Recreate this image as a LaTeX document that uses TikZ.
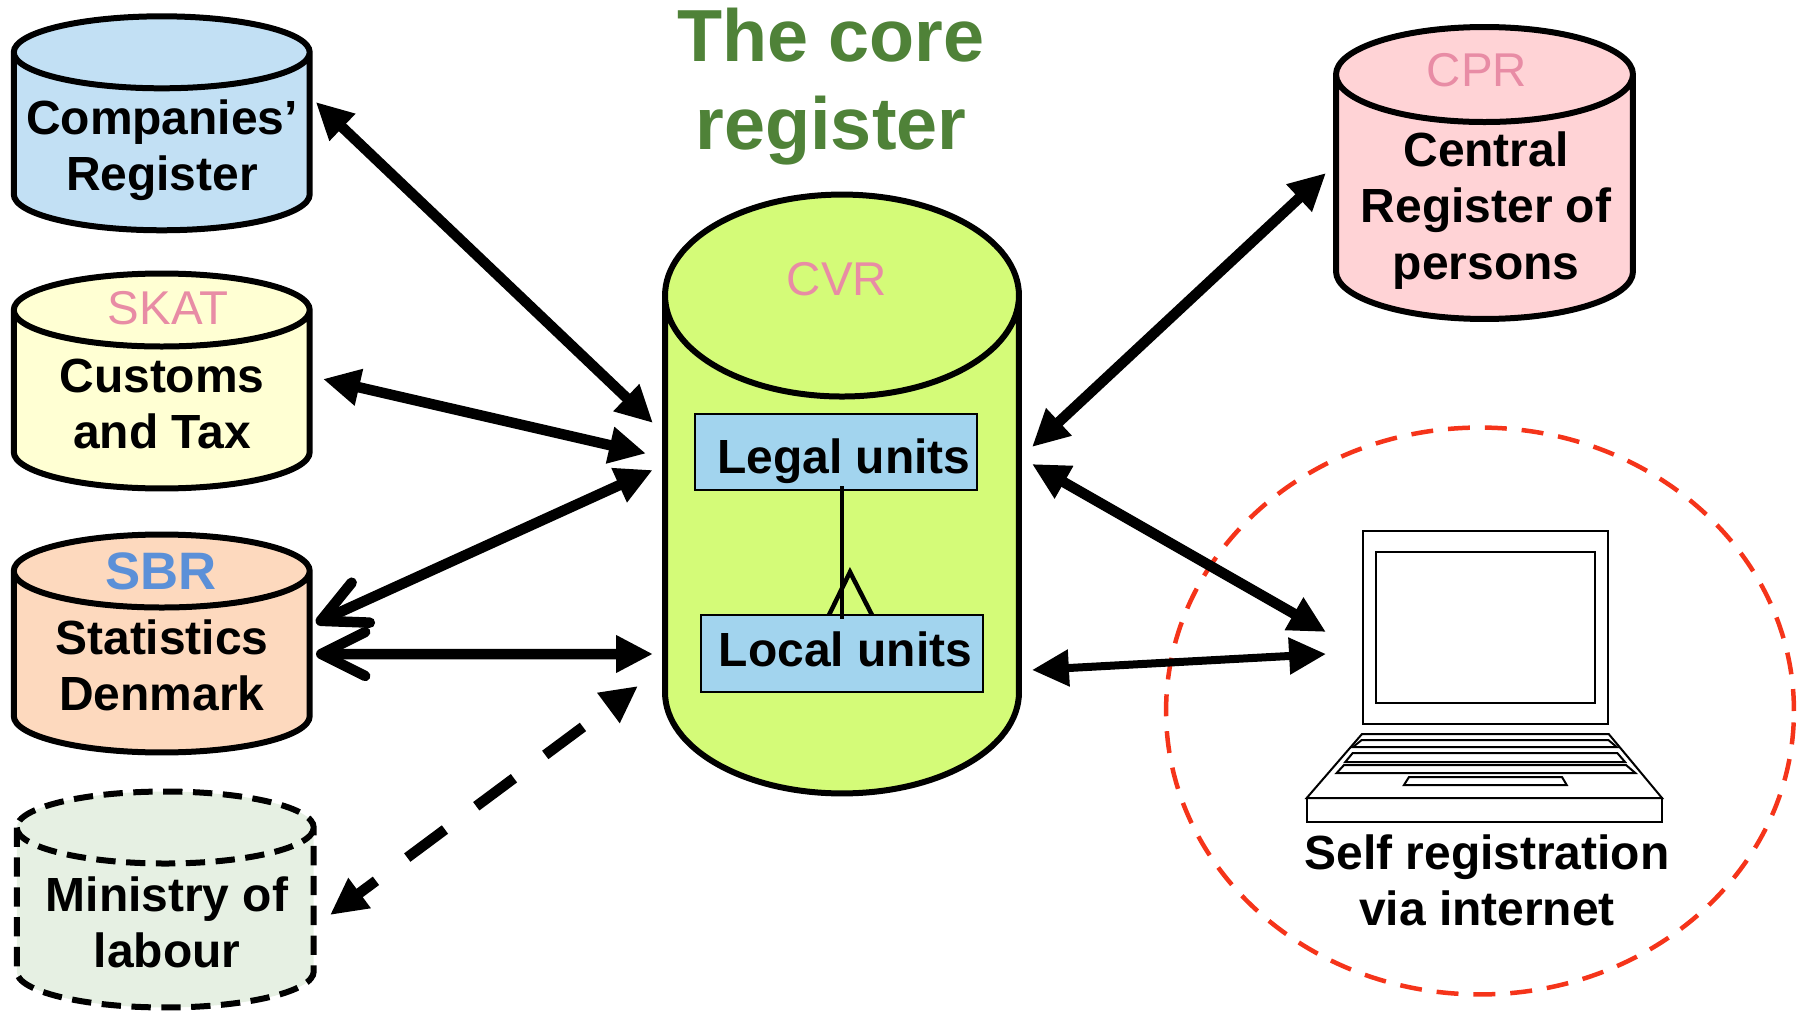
\documentclass[tikz,border=0pt]{standalone}
\usepackage{fontspec}
\setmainfont{Liberation Sans}
\usetikzlibrary{shapes.geometric}
\usepgflibrary{arrows.meta}
\definecolor{cvrgreen}{HTML}{D4FB78}
\definecolor{compblue}{HTML}{C2E0F4}
\definecolor{skatyellow}{HTML}{FFFFD3}
\definecolor{sbrorange}{HTML}{FDD9BE}
\definecolor{minigreen}{HTML}{E6F0E3}
\definecolor{cprpink}{HTML}{FFD3D6}
\definecolor{unitblue}{HTML}{A2D4EE}
\definecolor{tagpink}{HTML}{E88CA5}
\definecolor{tagblue}{HTML}{5B90D8}
\definecolor{titlegreen}{HTML}{4F8238}
\definecolor{dashred}{HTML}{F5341A}
\tikzset{
  regcore/.style={inner sep=0pt,outer sep=0pt},
  regtext/.style={align=center,font=\fontsize{27.3}{32}\selectfont\bfseries},
  regtag/.style={text=tagpink,font=\fontsize{27}{32.4}\selectfont},
  unitbox/.style={draw=black,line width=0.4mm,fill=unitblue,inner sep=0pt,outer sep=0pt,minimum width=5.66cm,minimum height=1.54cm},
  link/.style={line width=2.1mm,{Triangle[length=21pt,width=20pt]}-{Triangle[length=21pt,width=20pt]}},
  barblink/.style={line width=2.1mm,{Straight Barb[length=25pt,width=25pt,round]}-{Triangle[length=21pt,width=20pt]}},
  laptopline/.style={draw=black,line width=0.4mm}
}
%name, centre, half width, height, cap radius, look
\newcommand{\regcyl}[6]{
        \node [regcore,minimum width=2*#3cm,minimum height=#4cm] (#1) at (#2) {};
        \draw [line width=1.2mm,#6] ([yshift=-#5cm]#1.north west) -- ([yshift=#5cm]#1.south west)
            arc [start angle=180,end angle=360,x radius=#3cm,y radius=#5cm]
            -- ([yshift=-#5cm]#1.north east)
            arc [start angle=0,end angle=180,x radius=#3cm,y radius=#5cm] -- cycle
            ([yshift=-#5cm]#1.north west)
            arc [start angle=180,end angle=360,x radius=#3cm,y radius=#5cm];
}
\begin{document}
\begin{tikzpicture}[x=0.02cm,y=-0.02cm]
        \useasboundingbox (0,0) rectangle (1802,1013);
        %title
        \node [titlegreen,align=center,font=\fontsize{42}{50}\selectfont\bfseries] (title) at (831,87) {The core\\register};
        %left registers
        \regcyl{comp}{161.75,123.3}{2.96}{4.28}{0.72}{fill=compblue}
        \node [regtext] (comptext) at (162,150.5) {Companies’\\Register};
        \regcyl{skat}{161.75,381}{2.96}{4.3}{0.73}{fill=skatyellow}
        \node [regtag] (skattag) at (168,308.5) {SKAT};
        \node [regtext] (skattext) at (162,404) {Customs\\and Tax};
        \regcyl{sbr}{161.75,643.5}{2.96}{4.36}{0.73}{fill=sbrorange}
        \node [regtag,text=tagblue,font=\fontsize{30}{36}\selectfont\bfseries] (sbrtag) at (161,571.5) {SBR};
        \node [regtext] (sbrtext) at (162,665) {Statistics\\Denmark};
        \regcyl{mini}{165.25,899.5}{2.97}{4.32}{0.72}{fill=minigreen,dash pattern=on 11pt off 6pt}
        \node [regtext] (minitext) at (167,922) {Ministry of\\labour};
        %core register
        \regcyl{cvr}{842,494}{3.54}{11.98}{2.02}{fill=cvrgreen}
        \node [regtag] (cvrtag) at (837,279.5) {CVR};
        \node [unitbox] (legal) at (836,452) {};
        \node [unitbox] (local) at (842,653.5) {};
        \node [regtext] (legaltext) at (844,461) {Legal units};
        \node [regtext] (localtext) at (845.5,649) {Local units};
        \draw [line width=0.9mm] ([shift={(6,-4)}]legal.south) -- ([shift={(0,4)}]local.north);
        \draw [line width=0.9mm] ([shift={(-13,0)}]local.north) -- ++(21,-43) -- ++(22,43);
        %right side
        \regcyl{cpr}{1484.5,173}{2.97}{5.84}{0.95}{fill=cprpink}
        \node [regtag] (cprtag) at (1477,70) {CPR};
        \node [regtext] (cprtext) at (1486,210.5) {Central\\Register of\\persons};
        \node [shape=ellipse,draw=dashred,line width=0.9mm,dash pattern=on 12.5pt off 8.5pt,inner sep=0pt,outer sep=0pt,minimum width=12.56cm,minimum height=11.34cm] (selfreg) at (1480,711) {};
        %laptop
        \node [laptopline,inner sep=0pt,outer sep=0pt,minimum width=4.91cm,minimum height=3.86cm] (laptop) at (1485.3,627.5) {};
        \node [laptopline,inner sep=0pt,outer sep=0pt,minimum width=4.38cm,minimum height=3.02cm] (screen) at (1485.5,627.2) {};
        \draw [laptopline] (1362,734) -- (1608.7,734) -- (1662,798) -- (1306.7,798) -- cycle;
        \draw [laptopline] (1306.7,798) rectangle (1662,822);
        \draw [laptopline] (1361.7,740) -- (1608.3,740) -- (1616.7,747) -- (1353,747) -- cycle;
        \draw [laptopline] (1352.7,753) -- (1617.3,753) -- (1625,762) -- (1345.3,762) -- cycle;
        \draw [laptopline] (1344,765) -- (1626,765) -- (1635.3,773) -- (1336.7,773) -- cycle;
        \draw [laptopline] (1409,777) -- (1562,777) -- (1566.7,785) -- (1404,785) -- cycle;
        \node [regtext] (selftext) at (1487,880) {Self registration\\via internet};
        %arrows
        \draw [link] ([shift={(154,-21.3)}]comp.center) -- ([shift={(-189,-71)}]cvr.center);
        \draw [link] ([shift={(161.25,-2)}]skat.center) -- ([shift={(-196,-40.5)}]cvr.center);
        \draw [barblink] ([shift={(154.25,-20.5)}]sbr.center) -- ([shift={(-189.3,-24)}]cvr.center);
        \draw [barblink] ([shift={(154.25,10.5)}]sbr.center) -- ([shift={(-189,160)}]cvr.center);
        \draw [link,dash pattern=on 0.94cm off 0.78cm,dash phase=1.04cm] ([shift={(-204,192)}]cvr.center) -- ([shift={(164.75,15.5)}]mini.center);
        \draw [link] ([shift={(-158.5,0)}]cpr.center) -- ([shift={(190,-47)}]cvr.center);
        \draw [link] ([shift={(190,-30)}]cvr.center) -- ([shift={(-159.3,4.5)}]laptop.center);
        \draw [link,line width=1.6mm] ([shift={(190,176)}]cvr.center) -- ([shift={(-159.3,26.5)}]laptop.center);
\end{tikzpicture}
\end{document}
